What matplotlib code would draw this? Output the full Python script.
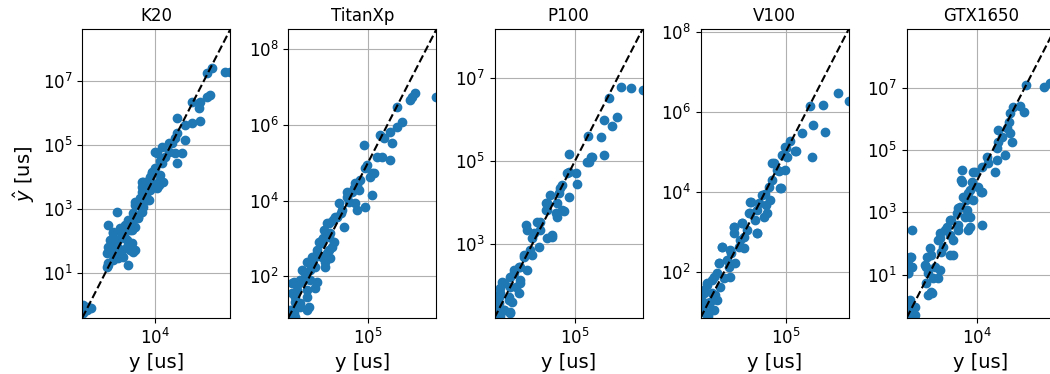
import matplotlib
matplotlib.use("Agg")
import matplotlib.pyplot as plt
from matplotlib.ticker import FixedLocator, NullLocator
import numpy as np

# measured (y) vs predicted (y_hat) runtimes, stored as log10(us) pairs
gpus = ["K20", "TitanXp", "P100", "V100", "GTX1650"]

k20_log = [
    (8.61, 7.29), (8.31, 7.29), (7.50, 7.39), (7.19, 7.24), (7.39, 6.56), (7.19, 6.51),
    (6.78, 6.35), (6.27, 6.35), (6.72, 6.14), (6.78, 5.73), (6.27, 5.67), (5.87, 5.62),
    (5.36, 5.83), (5.36, 5.36), (5.26, 5.21), (5.05, 5.05), (5.87, 5.14), (5.66, 4.74),
    (5.36, 4.42), (4.85, 4.79), (4.65, 4.63), (4.44, 4.94), (4.34, 4.48), (4.04, 4.79),
    (4.04, 4.27), (3.83, 4.11), (4.34, 3.90), (4.24, 3.75), (3.83, 3.80), (3.63, 3.90),
    (3.32, 3.85), (3.22, 3.69), (3.53, 3.54), (3.63, 3.28), (3.12, 3.28), (2.82, 3.12),
    (3.22, 3.02), (2.71, 2.86), (3.02, 2.71), (2.51, 2.65), (1.70, 2.91), (2.31, 2.44),
    (2.61, 2.34), (1.19, 2.50), (1.49, 2.24), (2.00, 2.24), (2.21, 2.08), (1.60, 1.98),
    (1.29, 1.82), (1.80, 1.77), (2.41, 1.77), (2.71, 1.66), (1.49, 1.61), (2.10, 1.51),
    (1.19, 1.30), (1.80, 1.46), (2.41, 1.25), (1.09, 1.19),
    (-0.34, 0.00), (-0.03, -0.06), (0.11, -0.11), (-0.34, -0.26), (-0.13, -0.16), (-0.40, -0.15),
    (1.49, 2.29), (1.29, 2.03), (1.19, 1.82), (1.09, 1.61), (1.19, 1.25), (1.49, 1.40),
    (1.80, 1.56), (2.82, 1.72), (2.61, 1.93), (2.31, 2.03), (2.00, 2.19), (2.21, 2.50),
    (2.41, 2.65), (2.92, 3.12), (2.82, 3.22), (3.12, 3.33), (3.22, 3.54), (3.53, 3.64),
    (3.22, 3.85), (3.73, 4.01), (3.83, 4.16), (4.34, 4.06), (4.54, 3.85), (4.14, 4.74),
    (4.44, 4.42), (4.85, 5.05), (5.26, 4.74), (4.14, 3.64), (1.90, 2.39), (1.70, 1.82),
    (2.31, 1.82), (2.51, 1.72), (2.00, 1.72), (1.49, 1.72), (1.80, 2.03), (2.10, 2.24),
    (2.51, 2.34), (2.82, 2.44), (2.71, 2.65), (3.02, 2.76), (3.22, 2.91), (3.32, 3.07),
    (3.53, 3.28), (3.42, 3.48), (3.73, 3.59), (3.93, 3.75),
]

titanxp_log = [
    (8.52, 6.74), (7.44, 6.83), (7.27, 6.74), (7.18, 6.65), (6.50, 6.48), (6.75, 6.08),
    (6.50, 5.95), (6.15, 5.82), (6.24, 5.51), (5.64, 5.73), (5.81, 5.64), (4.78, 5.47),
    (5.47, 5.16), (5.73, 5.16), (6.15, 5.07), (4.96, 4.94), (4.87, 4.85), (5.21, 4.72),
    (5.13, 4.63), (4.61, 4.54), (4.44, 4.41), (4.27, 4.32), (3.93, 4.23), (4.53, 4.28),
    (5.21, 4.15), (4.87, 3.84), (4.44, 3.75), (4.35, 3.93), (4.01, 3.97), (3.50, 3.93),
    (3.67, 3.75), (3.41, 3.58), (3.75, 3.31), (2.90, 3.40), (2.73, 3.22), (3.07, 3.14),
    (2.64, 2.96), (3.16, 2.78), (2.90, 2.61), (3.07, 2.48), (2.39, 2.61), (2.04, 2.35),
    (2.30, 2.26), (2.81, 2.26), (1.87, 2.39), (1.78, 2.08), (2.30, 1.69), (1.53, 1.90),
    (1.18, 1.86), (1.10, 1.55), (1.36, 1.64), (1.87, 1.46), (1.87, 1.11), (1.53, 1.20),
    (1.27, 1.33), (1.01, 1.11), (0.98, 0.98), (0.91, 1.05), (1.25, 0.93),
    (5.30, 4.72), (4.35, 4.46), (4.18, 4.23), (3.93, 4.10), (3.59, 3.66), (3.33, 3.58),
    (2.99, 3.40), (2.99, 3.05), (3.24, 2.92), (2.56, 2.87), (2.39, 2.70), (2.99, 2.70),
    (2.64, 2.52), (2.21, 2.48), (2.81, 2.39), (2.04, 2.17), (1.61, 2.17), (2.39, 1.86),
    (2.04, 1.90), (1.44, 1.82), (1.10, 1.82), (1.27, 1.46), (1.87, 1.64), (1.96, 1.20),
    (1.53, 1.29), (1.10, 1.11), (1.18, 1.03),
    (1.70, 1.90), (2.10, 2.50), (2.50, 2.90), (2.70, 3.00), (3.20, 3.50),
]

p100_log = [
    (8.18, 6.71), (7.62, 6.76), (7.15, 6.78), (6.60, 6.53), (6.99, 6.06), (6.76, 5.85),
    (6.36, 5.99), (6.21, 5.57), (5.63, 5.61), (6.36, 5.15), (5.74, 5.09), (5.58, 4.98),
    (4.72, 5.17), (4.64, 4.72), (5.03, 4.70), (5.11, 4.44), (4.72, 4.14), (4.40, 4.42),
    (4.24, 4.22), (3.85, 4.18), (4.48, 3.80), (4.09, 3.74), (3.70, 3.98), (3.62, 3.82),
    (3.93, 3.22), (3.70, 3.14), (3.30, 2.93), (3.38, 3.34), (3.23, 3.54), (2.76, 3.34),
    (2.68, 3.46), (2.99, 3.14), (2.60, 2.73), (2.99, 2.73), (2.76, 2.37), (2.36, 2.45),
    (2.13, 2.29), (2.44, 2.05), (1.97, 1.97), (1.58, 2.09), (1.50, 1.93), (1.42, 1.73),
    (1.89, 1.73), (2.05, 1.61), (1.97, 1.33), (1.66, 1.41), (1.35, 1.45), (1.27, 1.29),
    (1.22, 1.40), (1.50, 1.25),
    (5.66, 4.98), (5.82, 5.10), (4.72, 4.74), (4.32, 4.34), (3.62, 3.98), (4.17, 3.98),
    (4.40, 3.82), (3.70, 3.82), (4.17, 3.66), (3.38, 3.54), (3.07, 3.26), (3.93, 3.17),
    (2.91, 2.85), (2.60, 2.69), (2.44, 2.45), (2.13, 2.37), (1.97, 2.21), (2.44, 2.13),
    (2.21, 1.97), (1.66, 2.05), (1.50, 1.81), (2.36, 1.81), (1.89, 1.65), (1.42, 1.57),
    (1.97, 1.36), (1.66, 1.41), (1.35, 1.33),
]

v100_log = [
    (8.075, 6.28), (7.56, 6.49), (6.83, 6.17), (6.17, 6.16), (6.34, 5.67), (6.94, 5.50),
    (5.80, 5.47), (6.29, 4.89), (5.48, 5.02), (5.23, 5.27), (4.99, 5.14), (4.83, 4.93),
    (5.07, 4.89), (4.42, 4.73), (4.59, 4.56), (4.99, 4.56), (4.34, 4.31), (4.75, 4.10),
    (4.18, 4.14), (4.02, 3.97), (4.26, 3.81), (3.29, 3.77), (3.69, 3.73), (4.10, 3.48),
    (3.29, 3.48), (3.53, 3.31), (2.88, 3.23), (2.47, 3.14), (2.47, 2.98), (3.12, 3.06),
    (3.61, 2.98), (2.80, 2.81), (1.91, 2.64), (2.31, 2.56), (2.96, 2.60), (2.15, 2.31),
    (2.56, 2.23), (1.74, 2.23), (1.66, 1.98), (2.31, 1.89), (1.42, 1.81), (1.18, 1.68),
    (1.82, 1.64), (1.01, 1.48), (1.58, 1.43), (1.34, 1.27), (1.01, 1.18), (1.50, 1.06),
    (1.09, 0.98), (0.865, 1.30), (1.20, 0.90),
    (5.49, 5.02), (5.00, 5.10), (4.36, 4.73), (4.68, 4.52), (4.76, 4.10), (3.87, 3.93),
    (3.30, 3.77), (4.03, 3.68), (3.63, 3.56), (3.95, 3.39), (3.22, 3.48), (2.90, 3.23),
    (2.49, 3.14), (3.63, 2.98), (2.98, 2.89), (1.92, 2.64), (2.73, 2.64), (2.33, 2.48),
    (1.76, 2.23), (2.25, 2.14), (1.52, 1.89), (2.00, 1.85), (1.19, 1.73), (1.03, 1.56),
    (1.43, 1.48), (1.68, 1.31), (1.11, 1.23), (1.43, 1.06), (1.03, 1.02),
]

gtx1650_log = [
    (8.60, 7.14), (8.87, 7.05), (8.22, 7.03), (7.06, 7.08), (6.97, 6.23), (6.70, 6.41),
    (6.28, 6.39), (6.08, 6.18), (6.03, 5.91), (5.87, 5.69), (5.35, 5.64), (6.08, 5.53),
    (5.56, 5.43), (6.18, 5.26), (5.35, 5.26), (5.25, 5.05), (4.62, 4.78), (4.72, 4.57),
    (5.76, 4.84), (5.25, 4.68), (5.14, 4.30), (4.31, 4.46), (3.78, 4.30), (3.06, 4.36),
    (3.06, 3.98), (3.68, 3.98), (4.10, 3.82), (4.31, 3.66), (3.47, 3.61), (3.16, 3.50),
    (3.78, 3.39), (2.95, 3.18), (3.37, 3.07), (2.74, 2.97), (3.58, 2.86), (4.31, 2.59),
    (2.33, 2.75), (2.12, 2.54), (2.85, 2.59), (3.47, 2.43), (1.70, 2.33), (2.33, 2.27),
    (1.60, 2.11), (1.08, 1.85), (1.91, 1.90), (2.33, 1.63), (0.87, 1.58), (0.76, 1.31),
    (1.39, 1.26), (0.97, 1.04), (1.60, 0.88), (1.18, 0.40), (0.97, 0.35), (-0.07, 2.43),
    (-0.17, 1.58), (-0.07, 1.26), (-0.28, 1.47), (-0.28, 1.04), (-0.17, 0.19), (0.04, -0.03),
    (-0.17, -0.24), (0.14, -0.29), (-0.28, -0.08), (-0.38, -0.20), (0.05, -0.38),
    (3.03, 4.04), (3.87, 4.30), (3.56, 3.72), (4.29, 3.66), (3.35, 3.39), (2.83, 3.13),
    (3.25, 2.86), (2.41, 2.75), (3.56, 2.54), (1.99, 2.43), (2.83, 2.43), (1.68, 2.17),
    (2.51, 2.11), (1.16, 1.63), (1.78, 1.74), (2.51, 1.63), (0.85, 1.26), (1.68, 1.15),
    (-0.09, 1.58), (-0.09, 1.26), (-0.30, 1.04), (1.26, 0.88), (0.85, 0.72), (1.16, 0.45),
    (-0.19, 0.13), (-0.09, -0.19), (0.12, -0.03),
]

all_data = [k20_log, titanxp_log, p100_log, v100_log, gtx1650_log]

# tick decades shown in each panel
x_tick_exp = [[4], [5], [5], [5], [4]]
y_tick_exp = [[1, 3, 5, 7], [2, 4, 6, 8], [3, 5, 7], [2, 4, 6, 8], [1, 3, 5, 7]]

fig, axes = plt.subplots(1, 5, figsize=(10.5, 3.74))
fig.subplots_adjust(left=0.0784, right=1.0045, bottom=0.1505, top=0.9217, wspace=0.3926)

for i, (ax, name, pts) in enumerate(zip(axes, gpus, all_data)):
    arr = 10.0 ** np.array(pts)
    y, y_hat = arr[:, 0], arr[:, 1]
    lo = min(y.min(), y_hat.min())
    hi = max(y.max(), y_hat.max())

    ax.scatter(y, y_hat, color='C0', zorder=2)
    ax.plot([lo, hi], [lo, hi], 'k--', zorder=3)
    ax.set_xscale('log')
    ax.set_yscale('log')
    ax.set_xlim(lo, hi)
    ax.set_ylim(lo, hi)

    ax.xaxis.set_major_locator(FixedLocator([10.0 ** e for e in x_tick_exp[i]]))
    ax.yaxis.set_major_locator(FixedLocator([10.0 ** e for e in y_tick_exp[i]]))
    ax.xaxis.set_minor_locator(NullLocator())
    ax.yaxis.set_minor_locator(NullLocator())

    ax.grid(True)
    ax.set_axisbelow(True)
    ax.tick_params(labelsize=12)
    ax.set_title(name, fontsize=12)
    ax.set_xlabel('y [us]', fontsize=14)
    if i == 0:
        ax.set_ylabel(r'$\hat{y}$ [us]', fontsize=14)

fig.savefig('out.png', dpi=100)
plt.close(fig)
